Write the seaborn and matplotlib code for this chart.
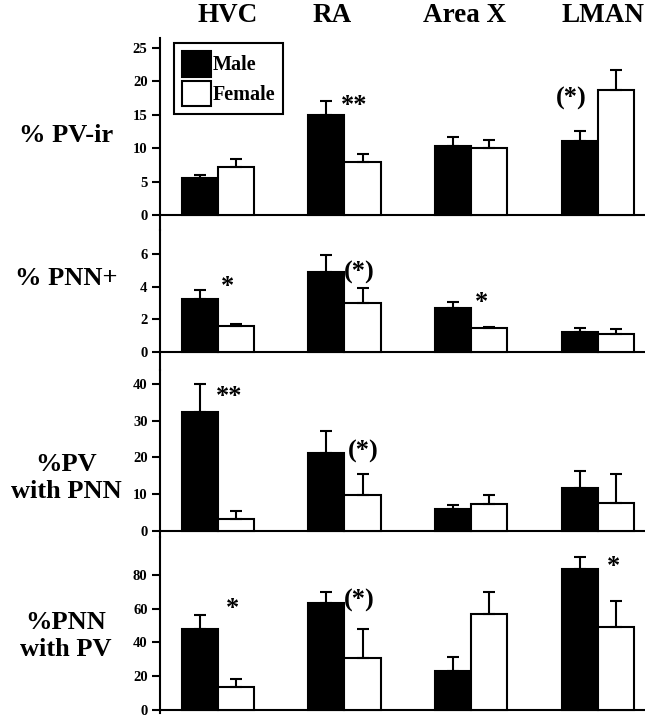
import numpy as np
import pandas as pd
import matplotlib
matplotlib.use("Agg")
import matplotlib.pyplot as plt
import matplotlib.transforms as mtransforms
from matplotlib.patches import Patch
import seaborn as sns

regions = ["HVC", "RA", "Area X", "LMAN"]
sexes = ["Male", "Female"]

# % PV-ir
pv_male = [5.6, 15.0, 10.4, 11.1]
pv_male_err = [0.4, 2.1, 1.3, 1.4]
pv_female = [7.2, 8.0, 10.0, 18.7]
pv_female_err = [1.2, 1.2, 1.2, 3.0]

# % PNN+
pnn_male = [3.25, 4.9, 2.7, 1.25]
pnn_male_err = [0.55, 1.05, 0.38, 0.22]
pnn_female = [1.6, 3.0, 1.5, 1.1]
pnn_female_err = [0.12, 0.9, 0.05, 0.3]

# %PV with PNN
pvpnn_male = [32.3, 21.2, 5.9, 11.6]
pvpnn_male_err = [7.7, 6.0, 1.2, 4.6]
pvpnn_female = [3.2, 9.9, 7.45, 7.7]
pvpnn_female_err = [2.3, 5.7, 2.45, 7.9]

# %PNN with PV
pnnpv_male = [48.2, 63.4, 22.9, 83.2]
pnnpv_male_err = [8.3, 6.5, 8.7, 7.3]
pnnpv_female = [13.6, 31.0, 56.7, 49.2]
pnnpv_female_err = [5.0, 16.8, 13.4, 15.2]

row_labels = ["% PV-ir", "% PNN+", "%PV\nwith PNN", "%PNN\nwith PV"]
yticks = [[0, 5, 10, 15, 20, 25], [0, 2, 4, 6], [0, 10, 20, 30, 40], [0, 20, 40, 60, 80]]

# significance marks per panel: (x, y, text)
sig_marks = [
    [(1.08, 16.9, "**"), (2.79, 17.7, "(*)")],
    [(0.08, 4.2, "*"), (1.12, 5.0, "(*)"), (2.08, 3.25, "*")],
    [(0.09, 37.5, "**"), (1.15, 22.0, "(*)")],
    [(0.12, 62.0, "*"), (1.12, 66.0, "(*)"), (3.12, 87.0, "*")],
]

panels = [
    (pv_male, pv_male_err, pv_female, pv_female_err),
    (pnn_male, pnn_male_err, pnn_female, pnn_female_err),
    (pvpnn_male, pvpnn_male_err, pvpnn_female, pvpnn_female_err),
    (pnnpv_male, pnnpv_male_err, pnnpv_female, pnnpv_female_err),
]

sns.set_style("ticks")
plt.rcParams["font.family"] = ["Liberation Serif", "DejaVu Serif"]
plt.rcParams["font.weight"] = "bold"
for k in ["text.color", "axes.labelcolor", "xtick.color", "ytick.color", "axes.edgecolor"]:
    plt.rcParams[k] = "black"

W, H = 656, 720
fig = plt.figure(figsize=(W / 100, H / 100), dpi=100)

# pixel layout of each panel: top, bottom, ymin, ymax
layout = [(38, 230, -2.25, 26.5), (230, 370, -1.1, 7.48),
          (370, 537, -1.63, 43.8), (537, 713, -1.78, 102.4)]
palette = {"Male": "black", "Female": "white"}
row_y = [135, 279, 478, 636]

axes = []
for i, (m, m_err, f, f_err) in enumerate(panels):
    top, bot, ymin, ymax = layout[i]
    ax = fig.add_axes([160 / W, 1 - bot / H, 485 / W, (bot - top) / H])
    ax.set_facecolor("none")
    df = pd.DataFrame({"region": regions * 2,
                       "sex": ["Male"] * 4 + ["Female"] * 4,
                       "value": list(m) + list(f)})
    sns.barplot(data=df, x="region", y="value", hue="sex", order=regions,
                hue_order=sexes, palette=palette, saturation=1,
                edgecolor="black", linewidth=1.5, width=0.57,
                errorbar=None, legend=False, ax=ax, zorder=2)
    for cont, errs in zip(list(ax.containers[:2]), [m_err, f_err]):
        xs = [p.get_x() + p.get_width() / 2 for p in cont]
        hs = [p.get_height() for p in cont]
        ax.errorbar(xs, hs, yerr=[np.zeros(len(errs)), errs], fmt="none",
                    ecolor="black", elinewidth=1.5, capsize=4.5, capthick=1.5,
                    zorder=3)
    ax.axhline(0, color="black", lw=1.5, zorder=1)
    ax.set_xlim(-0.455, 3.37)
    ax.set_ylim(ymin, ymax)
    ax.set_yticks(yticks[i])
    ax.set_xticks([])
    ax.set_xlabel("")
    ax.set_ylabel("")
    for s in ["top", "right", "bottom"]:
        ax.spines[s].set_visible(False)
    ax.spines["left"].set_linewidth(1.5)
    ax.tick_params(axis="y", length=6, width=1.5, labelsize=10.5, pad=3)

    for x, y, txt in sig_marks[i]:
        off = -2.5 if txt.startswith("*") else -1.2
        ax.annotate(txt, (x, y), xytext=(0, off), textcoords="offset points",
                    ha="center", va="center", fontsize=19, fontweight="bold")

    fig.text(66 / W, 1 - row_y[i] / H, row_labels[i], ha="center", va="center",
             fontsize=19, fontweight="bold", linespacing=1.2, multialignment="center")
    axes.append(ax)

# column headers
trans = mtransforms.blended_transform_factory(axes[0].transData, fig.transFigure)
for x, name in zip([0.08, 0.905, 1.95, 3.04], regions):
    axes[0].text(x, 1 - 15 / H, name, transform=trans, ha="center", va="center",
                 fontsize=19.5, fontweight="bold")

handles = [Patch(facecolor=palette[s], edgecolor="black", linewidth=1.5) for s in sexes]
leg = axes[0].legend(handles, sexes, loc="upper left",
                     bbox_to_anchor=(174 / W, 1 - 43 / H), bbox_transform=fig.transFigure,
                     borderaxespad=0, frameon=True, fancybox=False, edgecolor="black",
                     framealpha=1, handlelength=1.45, handleheight=1.6,
                     handletextpad=0.1, labelspacing=0.2, borderpad=0.38,
                     prop={"size": 14.5, "weight": "bold"})
leg.get_frame().set_linewidth(1.5)

fig.savefig("out.png", dpi=100)
